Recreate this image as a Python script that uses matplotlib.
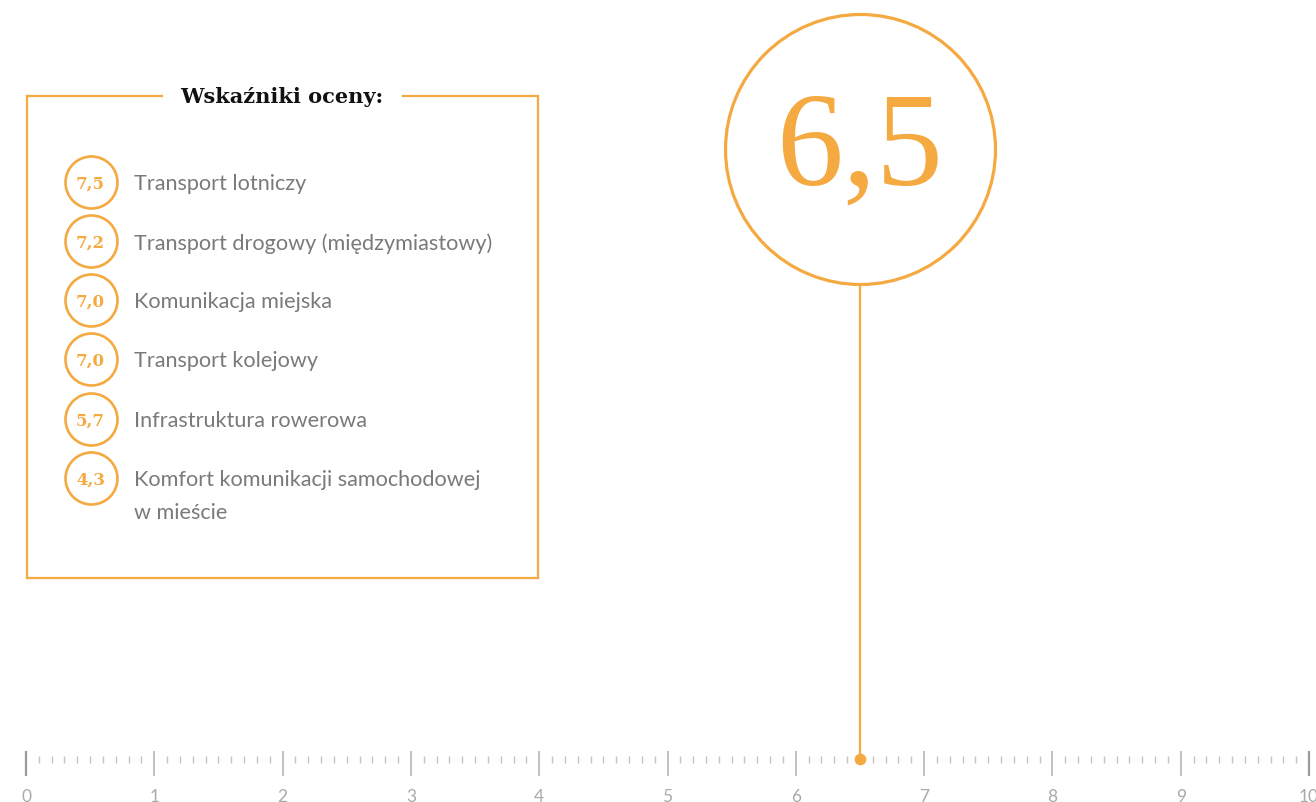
import numpy as np
import matplotlib
matplotlib.use("Agg")
import matplotlib.pyplot as plt

# Overall score and its sub-indicators
score = 6.5
score_label = "6,5"
item_values = [7.5, 7.2, 7.0, 7.0, 5.7, 4.3]
item_labels = ["Transport lotniczy",
               "Transport drogowy (międzymiastowy)",
               "Komunikacja miejska",
               "Transport kolejowy",
               "Infrastruktura rowerowa",
               "Komfort komunikacji samochodowej\nw mieście"]
scale_ticks = list(range(0, 11))
title = "Wskaźniki oceny:"

orange = "#f5a941"
W, H = 1316, 803
x0_px, x10_px = 26, 1309          # where 0 and 10 sit on the scale
unit = (x10_px - x0_px) / 10.0


def px(x):
    # pixel column -> scale units
    return (x - x0_px) / unit


fig = plt.figure(figsize=(W / 100, H / 100), dpi=100)
ax = fig.add_axes([0, 0, 1, 1])
ax.set_xlim(px(0), px(W))
ax.set_ylim(H, 0)
ax.axis("off")

# scale along the bottom
minor = np.round(np.arange(0, 10.01, 0.1), 1)
minor = [m for m in minor if abs(m - round(m)) > 1e-6]
ax.vlines(minor, 757, 764, color="#c4c4c4", lw=1.0)
for t in scale_ticks:
    c = "#9a9a9a" if t in (0, 10) else "#bdbdbd"
    ax.vlines(t, 752, 777, color=c, lw=1.6 if t in (0, 10) else 1.3)
    ax.text(t, 797, str(t), ha="center", va="center", fontsize=12.5,
            color="#aaaaaa", family="Lato")

# pin for the overall score
ax.vlines(score, 285, 760, color=orange, lw=1.6)
ax.scatter([score], [760], s=55, color=orange, zorder=4)
ax.scatter([score], [150], s=(270 * 0.72) ** 2, facecolor="white",
           edgecolor=orange, linewidth=2.3, zorder=3)
ax.text(score, 152, score_label, ha="center", va="center", fontsize=96,
        color=orange, family="Liberation Serif", zorder=5)

# indicator box
bx0, bx1, by0, by1 = px(27), px(538), 97, 579
kw = dict(color=orange, lw=1.6)
ax.plot([bx0, px(162)], [by0, by0], **kw)
ax.plot([px(403), bx1], [by0, by0], **kw)
ax.plot([bx0, bx0], [by0, by1], **kw)
ax.plot([bx1, bx1], [by0, by1], **kw)
ax.plot([bx0, bx1], [by1, by1], **kw)
ax.text(px(282), by0, title, ha="center", va="center", fontsize=15,
        fontweight="bold", color="#111111", family="DejaVu Serif")

row_y = [183, 242, 301, 360, 420, 479]
for v, lab, y in zip(item_values, item_labels, row_y):
    ax.scatter([px(90.5)], [y], s=(52 * 0.72) ** 2, facecolor="white",
               edgecolor=orange, linewidth=1.9, zorder=3)
    ax.text(px(90.5), y + 1, f"{v:.1f}".replace(".", ","), ha="center",
            va="center", fontsize=12, fontweight="bold", color=orange,
            family="DejaVu Serif", zorder=4)
    ax.text(px(134), y - 9, lab, ha="left", va="top", fontsize=15.6,
            color="#7a7a7a", family="Lato", linespacing=1.8)

fig.savefig("out.png", dpi=100, facecolor="white")
